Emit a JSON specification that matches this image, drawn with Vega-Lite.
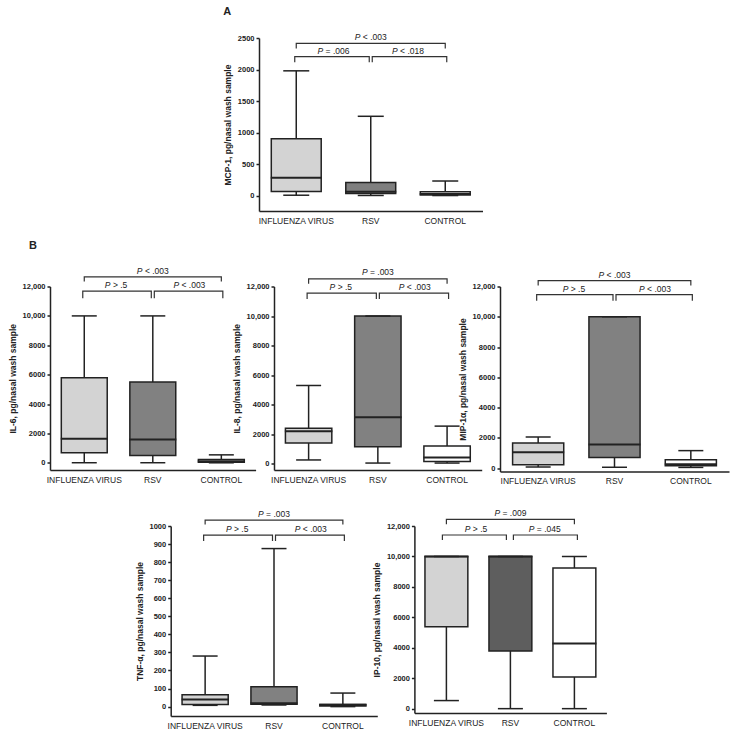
{
"$schema": "https://vega.github.io/schema/vega-lite/v6.json",
"padding": {"left": 8, "top": 6, "right": 2, "bottom": 2},
"config": {
 "view": {"stroke": null},
 "font": "Liberation Sans",
 "tick": {"opacity": 1},
 "axis": {"grid": false, "domainColor": "#222", "domainWidth": 1.5, "tickColor": "#222", "tickWidth": 1.5, "labelColor": "#222", "titleColor": "#222", "labelFont": "Liberation Sans", "titleFont": "Liberation Sans"},
 "axisY": {"tickSize": 3, "labelFontSize": 7.5, "labelFontWeight": "bold", "labelPadding": 2, "labelOverlap": false, "tickCount": 20, "titleFontSize": 8.5, "titleFontWeight": "bold", "titlePadding": 5},
 "axisX": {"ticks": false, "labelFontSize": 8.5, "labelPadding": 5, "labelAngle": 0},
 "title": {"font": "Liberation Sans", "fontSize": 11, "fontWeight": "bold", "color": "#222", "anchor": "start"},
 "text": {"font": "Liberation Sans", "fontSize": 8.5, "color": "#222", "baseline": "middle"}
},
"datasets": {
 "boxes": [
  {"panel":"A","group":"INFLUENZA VIRUS","min":10,"q1":70,"median":285,"q3":905,"max":1980},
  {"panel":"A","group":"RSV","min":6,"q1":37,"median":65,"q3":210,"max":1260},
  {"panel":"A","group":"CONTROL","min":5,"q1":12,"median":30,"q3":63,"max":235},
  {"panel":"IL6","group":"INFLUENZA VIRUS","min":15,"q1":700,"median":1650,"q3":5800,"max":10000},
  {"panel":"IL6","group":"RSV","min":15,"q1":500,"median":1600,"q3":5500,"max":10000},
  {"panel":"IL6","group":"CONTROL","min":10,"q1":50,"median":120,"q3":230,"max":550},
  {"panel":"IL8","group":"INFLUENZA VIRUS","min":260,"q1":1400,"median":2200,"q3":2400,"max":5300},
  {"panel":"IL8","group":"RSV","min":50,"q1":1150,"median":3150,"q3":10000,"max":10000},
  {"panel":"IL8","group":"CONTROL","min":50,"q1":150,"median":420,"q3":1200,"max":2550},
  {"panel":"MIP","group":"INFLUENZA VIRUS","min":60,"q1":220,"median":1050,"q3":1650,"max":2050},
  {"panel":"MIP","group":"RSV","min":50,"q1":700,"median":1550,"q3":10000,"max":10000},
  {"panel":"MIP","group":"CONTROL","min":40,"q1":150,"median":250,"q3":550,"max":1150},
  {"panel":"TNF","group":"INFLUENZA VIRUS","min":7,"q1":12,"median":40,"q3":65,"max":280},
  {"panel":"TNF","group":"RSV","min":9,"q1":13,"median":18,"q3":110,"max":875},
  {"panel":"TNF","group":"CONTROL","min":0,"q1":3,"median":10,"q3":12,"max":75},
  {"panel":"IP10","group":"INFLUENZA VIRUS","min":550,"q1":5400,"median":10000,"q3":10000,"max":10000},
  {"panel":"IP10","group":"RSV","min":20,"q1":3800,"median":10000,"q3":10000,"max":10000},
  {"panel":"IP10","group":"CONTROL","min":20,"q1":2100,"median":4300,"q3":9250,"max":10000}
 ],
 "brackets": [
  {"panel":"A","br":"top","group":"INFLUENZA VIRUS","y":2335,"i":1},{"panel":"A","br":"top","group":"INFLUENZA VIRUS","y":2415,"i":2},{"panel":"A","br":"top","group":"CONTROL","y":2415,"i":3},{"panel":"A","br":"top","group":"CONTROL","y":2335,"i":4},
  {"panel":"A","br":"left","group":"INFLUENZA VIRUS","y":2115,"i":1},{"panel":"A","br":"left","group":"INFLUENZA VIRUS","y":2205,"i":2},{"panel":"A","br":"left","group":"RSV","y":2205,"i":3},{"panel":"A","br":"left","group":"RSV","y":2115,"i":4},
  {"panel":"A","br":"right","group":"RSV","y":2115,"i":1},{"panel":"A","br":"right","group":"RSV","y":2205,"i":2},{"panel":"A","br":"right","group":"CONTROL","y":2205,"i":3},{"panel":"A","br":"right","group":"CONTROL","y":2115,"i":4},
  {"panel":"IL6","br":"top","group":"INFLUENZA VIRUS","y":12340,"i":1},{"panel":"IL6","br":"top","group":"INFLUENZA VIRUS","y":12650,"i":2},{"panel":"IL6","br":"top","group":"CONTROL","y":12650,"i":3},{"panel":"IL6","br":"top","group":"CONTROL","y":12340,"i":4},
  {"panel":"IL6","br":"left","group":"INFLUENZA VIRUS","y":11200,"i":1},{"panel":"IL6","br":"left","group":"INFLUENZA VIRUS","y":11680,"i":2},{"panel":"IL6","br":"left","group":"RSV","y":11680,"i":3},{"panel":"IL6","br":"left","group":"RSV","y":11200,"i":4},
  {"panel":"IL6","br":"right","group":"RSV","y":11200,"i":1},{"panel":"IL6","br":"right","group":"RSV","y":11680,"i":2},{"panel":"IL6","br":"right","group":"CONTROL","y":11680,"i":3},{"panel":"IL6","br":"right","group":"CONTROL","y":11200,"i":4},
  {"panel":"IL8","br":"top","group":"INFLUENZA VIRUS","y":12180,"i":1},{"panel":"IL8","br":"top","group":"INFLUENZA VIRUS","y":12520,"i":2},{"panel":"IL8","br":"top","group":"CONTROL","y":12520,"i":3},{"panel":"IL8","br":"top","group":"CONTROL","y":12180,"i":4},
  {"panel":"IL8","br":"left","group":"INFLUENZA VIRUS","y":11150,"i":1},{"panel":"IL8","br":"left","group":"INFLUENZA VIRUS","y":11550,"i":2},{"panel":"IL8","br":"left","group":"RSV","y":11550,"i":3},{"panel":"IL8","br":"left","group":"RSV","y":11150,"i":4},
  {"panel":"IL8","br":"right","group":"RSV","y":11150,"i":1},{"panel":"IL8","br":"right","group":"RSV","y":11550,"i":2},{"panel":"IL8","br":"right","group":"CONTROL","y":11550,"i":3},{"panel":"IL8","br":"right","group":"CONTROL","y":11150,"i":4},
  {"panel":"MIP","br":"top","group":"INFLUENZA VIRUS","y":12070,"i":1},{"panel":"MIP","br":"top","group":"INFLUENZA VIRUS","y":12390,"i":2},{"panel":"MIP","br":"top","group":"CONTROL","y":12390,"i":3},{"panel":"MIP","br":"top","group":"CONTROL","y":12070,"i":4},
  {"panel":"MIP","br":"left","group":"INFLUENZA VIRUS","y":11060,"i":1},{"panel":"MIP","br":"left","group":"INFLUENZA VIRUS","y":11460,"i":2},{"panel":"MIP","br":"left","group":"RSV","y":11460,"i":3},{"panel":"MIP","br":"left","group":"RSV","y":11060,"i":4},
  {"panel":"MIP","br":"right","group":"RSV","y":11060,"i":1},{"panel":"MIP","br":"right","group":"RSV","y":11460,"i":2},{"panel":"MIP","br":"right","group":"CONTROL","y":11460,"i":3},{"panel":"MIP","br":"right","group":"CONTROL","y":11060,"i":4},
  {"panel":"TNF","br":"top","group":"INFLUENZA VIRUS","y":1009,"i":1},{"panel":"TNF","br":"top","group":"INFLUENZA VIRUS","y":1033,"i":2},{"panel":"TNF","br":"top","group":"CONTROL","y":1033,"i":3},{"panel":"TNF","br":"top","group":"CONTROL","y":1009,"i":4},
  {"panel":"TNF","br":"left","group":"INFLUENZA VIRUS","y":917,"i":1},{"panel":"TNF","br":"left","group":"INFLUENZA VIRUS","y":949,"i":2},{"panel":"TNF","br":"left","group":"RSV","y":949,"i":3},{"panel":"TNF","br":"left","group":"RSV","y":917,"i":4},
  {"panel":"TNF","br":"right","group":"RSV","y":917,"i":1},{"panel":"TNF","br":"right","group":"RSV","y":949,"i":2},{"panel":"TNF","br":"right","group":"CONTROL","y":949,"i":3},{"panel":"TNF","br":"right","group":"CONTROL","y":917,"i":4},
  {"panel":"IP10","br":"top","group":"INFLUENZA VIRUS","y":12110,"i":1},{"panel":"IP10","br":"top","group":"INFLUENZA VIRUS","y":12440,"i":2},{"panel":"IP10","br":"top","group":"CONTROL","y":12440,"i":3},{"panel":"IP10","br":"top","group":"CONTROL","y":12110,"i":4},
  {"panel":"IP10","br":"left","group":"INFLUENZA VIRUS","y":11080,"i":1},{"panel":"IP10","br":"left","group":"INFLUENZA VIRUS","y":11410,"i":2},{"panel":"IP10","br":"left","group":"RSV","y":11410,"i":3},{"panel":"IP10","br":"left","group":"RSV","y":11080,"i":4},
  {"panel":"IP10","br":"right","group":"RSV","y":11080,"i":1},{"panel":"IP10","br":"right","group":"RSV","y":11410,"i":2},{"panel":"IP10","br":"right","group":"CONTROL","y":11410,"i":3},{"panel":"IP10","br":"right","group":"CONTROL","y":11080,"i":4}
 ],
 "labels": [
  {"panel":"A","kind":"top","at":"RSV","y":2510,"rest":"< .003"},{"panel":"A","kind":"low","at":"INFLUENZA VIRUS","y":2290,"rest":"= .006"},{"panel":"A","kind":"low","at":"RSV","y":2290,"rest":"< .018"},
  {"panel":"IL6","kind":"top","at":"RSV","y":13060,"rest":"< .003"},{"panel":"IL6","kind":"low","at":"INFLUENZA VIRUS","y":12090,"rest":"> .5"},{"panel":"IL6","kind":"low","at":"RSV","y":12090,"rest":"< .003"},
  {"panel":"IL8","kind":"top","at":"RSV","y":12950,"rest":"= .003"},{"panel":"IL8","kind":"low","at":"INFLUENZA VIRUS","y":11960,"rest":"> .5"},{"panel":"IL8","kind":"low","at":"RSV","y":11960,"rest":"< .003"},
  {"panel":"MIP","kind":"top","at":"RSV","y":12770,"rest":"< .003"},{"panel":"MIP","kind":"low","at":"INFLUENZA VIRUS","y":11850,"rest":"> .5"},{"panel":"MIP","kind":"low","at":"RSV","y":11850,"rest":"< .003"},
  {"panel":"TNF","kind":"top","at":"RSV","y":1065,"rest":"= .003"},{"panel":"TNF","kind":"low","at":"INFLUENZA VIRUS","y":982,"rest":"> .5"},{"panel":"TNF","kind":"low","at":"RSV","y":982,"rest":"< .003"},
  {"panel":"IP10","kind":"top","at":"RSV","y":12840,"rest":"= .009"},{"panel":"IP10","kind":"low","at":"INFLUENZA VIRUS","y":11800,"rest":"> .5"},{"panel":"IP10","kind":"low","at":"RSV","y":11800,"rest":"= .045"}
 ]
},
"resolve": {"scale": {"color": "independent"}},
"spacing": 24,
"vconcat": [
 {
 "resolve": {"scale": {"color": "independent"}},
 "spacing": 14.5,
 "vconcat": [
  {
  "resolve": {"scale": {"color": "independent"}},
  "bounds": "flush",
  "spacing": 20,
  "hconcat": [
   {"width": 189, "height": 5, "data": {"values": []}, "mark": "point", "encoding": {}},
   {
   "width": 223.5, "height": 173,
   "title": {"text": "A", "offset": 16},
   "layer": [
    {"data":{"name":"boxes"},"transform":[{"filter":"datum.panel==='A'"}],
     "mark":{"type":"rule","color":"#222","strokeWidth":1.5},
     "encoding":{"x":{"field":"group","type":"nominal","title":null,"scale":{"domain":["INFLUENZA VIRUS","RSV","CONTROL"],"paddingInner":0,"paddingOuter":0}},
      "y":{"field":"min","type":"quantitative","scale":{"domain":[-240,2500],"nice":false,"zero":false},"axis":{"title":"MCP-1, pg/nasal wash sample","values":[0,500,1000,1500,2000,2500],"tickCount":20,"labelOverlap":false,"labelExpr":"datum.value >= 10000 ? format(datum.value, ',') : format(datum.value, 'd')"}},
      "y2":{"field":"max"}}},
    {"data":{"name":"boxes"},"transform":[{"filter":"datum.panel==='A'"}],
     "mark":{"type":"bar","width":{"band":0.67},"stroke":"#222","strokeWidth":1.5},
     "encoding":{"x":{"field":"group","type":"nominal","title":null},"y":{"field":"q1","type":"quantitative"},"y2":{"field":"q3"},
      "color":{"field":"group","type":"nominal","scale":{"domain":["INFLUENZA VIRUS","RSV","CONTROL"],"range":["#d3d3d3","#7f7f7f","#ffffff"]},"legend":null}}},
    {"data":{"name":"boxes"},"transform":[{"filter":"datum.panel==='A'"}],
     "mark":{"type":"tick","orient":"horizontal","size":51,"thickness":2,"color":"#222"},
     "encoding":{"x":{"field":"group","type":"nominal","title":null},"y":{"field":"median","type":"quantitative"}}},
    {"data":{"name":"boxes"},"transform":[{"filter":"datum.panel==='A'"},{"fold":["min","max"],"as":["stat","val"]}],
     "mark":{"type":"tick","orient":"horizontal","size":26,"thickness":1.5,"color":"#222"},
     "encoding":{"x":{"field":"group","type":"nominal","title":null},"y":{"field":"val","type":"quantitative"}}},
    {"data":{"name":"brackets"},"transform":[{"filter":"datum.panel==='A' && datum.br==='top'"}],
     "mark":{"type":"line","color":"#333","strokeWidth":1.2},
     "encoding":{"x":{"field":"group","type":"nominal","title":null},"y":{"field":"y","type":"quantitative"},"order":{"field":"i","type":"quantitative"}}},
    {"data":{"name":"brackets"},"transform":[{"filter":"datum.panel==='A' && datum.br==='left'"}],
     "mark":{"type":"line","color":"#333","strokeWidth":1.2,"xOffset":-1.5},
     "encoding":{"x":{"field":"group","type":"nominal","title":null},"y":{"field":"y","type":"quantitative"},"order":{"field":"i","type":"quantitative"}}},
    {"data":{"name":"brackets"},"transform":[{"filter":"datum.panel==='A' && datum.br==='right'"}],
     "mark":{"type":"line","color":"#333","strokeWidth":1.2,"xOffset":1.5},
     "encoding":{"x":{"field":"group","type":"nominal","title":null},"y":{"field":"y","type":"quantitative"},"order":{"field":"i","type":"quantitative"}}},
    {"data":{"name":"labels"},"transform":[{"filter":"datum.panel==='A' && datum.kind==='top'"}],
     "mark":{"type":"text","text":"P","fontStyle":"italic","align":"right","dx":-10.3},
     "encoding":{"x":{"field":"at","type":"nominal","title":null},"y":{"field":"y","type":"quantitative"}}},
    {"data":{"name":"labels"},"transform":[{"filter":"datum.panel==='A' && datum.kind==='top'"}],
     "mark":{"type":"text","align":"left","dx":-7.9},
     "encoding":{"x":{"field":"at","type":"nominal","title":null},"y":{"field":"y","type":"quantitative"},"text":{"field":"rest"}}},
    {"data":{"name":"labels"},"transform":[{"filter":"datum.panel==='A' && datum.kind==='low'"}],
     "mark":{"type":"text","text":"P","fontStyle":"italic","align":"right","dx":-10.3},
     "encoding":{"x":{"field":"at","type":"nominal","title":null,"bandPosition":1},"y":{"field":"y","type":"quantitative"}}},
    {"data":{"name":"labels"},"transform":[{"filter":"datum.panel==='A' && datum.kind==='low'"}],
     "mark":{"type":"text","align":"left","dx":-7.9},
     "encoding":{"x":{"field":"at","type":"nominal","title":null,"bandPosition":1},"y":{"field":"y","type":"quantitative"},"text":{"field":"rest"}}}
   ]
   }
  ]
  },
  {
  "resolve": {"scale": {"color": "independent"}},
  "bounds": "flush",
  "spacing": 18,
  "hconcat": [
   {
   "width": 205.6, "height": 183.5,
   "title": {"text": "B", "offset": 16, "dx": 21},
   "layer": [
    {"data":{"name":"boxes"},"transform":[{"filter":"datum.panel==='IL6'"}],
     "mark":{"type":"rule","color":"#222","strokeWidth":1.5},
     "encoding":{"x":{"field":"group","type":"nominal","title":null,"scale":{"domain":["INFLUENZA VIRUS","RSV","CONTROL"],"paddingInner":0,"paddingOuter":0}},
      "y":{"field":"min","type":"quantitative","scale":{"domain":[-480,12000],"nice":false,"zero":false},"axis":{"title":"IL-6, pg/nasal wash sample","values":[0,2000,4000,6000,8000,10000,12000],"tickCount":20,"labelOverlap":false,"labelExpr":"datum.value >= 10000 ? format(datum.value, ',') : format(datum.value, 'd')"}},
      "y2":{"field":"max"}}},
    {"data":{"name":"boxes"},"transform":[{"filter":"datum.panel==='IL6'"}],
     "mark":{"type":"bar","width":{"band":0.67},"stroke":"#222","strokeWidth":1.5},
     "encoding":{"x":{"field":"group","type":"nominal","title":null},"y":{"field":"q1","type":"quantitative"},"y2":{"field":"q3"},
      "color":{"field":"group","type":"nominal","scale":{"domain":["INFLUENZA VIRUS","RSV","CONTROL"],"range":["#d3d3d3","#818181","#ffffff"]},"legend":null}}},
    {"data":{"name":"boxes"},"transform":[{"filter":"datum.panel==='IL6'"}],
     "mark":{"type":"tick","orient":"horizontal","size":47,"thickness":2,"color":"#222"},
     "encoding":{"x":{"field":"group","type":"nominal","title":null},"y":{"field":"median","type":"quantitative"}}},
    {"data":{"name":"boxes"},"transform":[{"filter":"datum.panel==='IL6'"},{"fold":["min","max"],"as":["stat","val"]}],
     "mark":{"type":"tick","orient":"horizontal","size":25,"thickness":1.5,"color":"#222"},
     "encoding":{"x":{"field":"group","type":"nominal","title":null},"y":{"field":"val","type":"quantitative"}}},
    {"data":{"name":"brackets"},"transform":[{"filter":"datum.panel==='IL6' && datum.br==='top'"}],
     "mark":{"type":"line","color":"#333","strokeWidth":1.2},
     "encoding":{"x":{"field":"group","type":"nominal","title":null},"y":{"field":"y","type":"quantitative"},"order":{"field":"i","type":"quantitative"}}},
    {"data":{"name":"brackets"},"transform":[{"filter":"datum.panel==='IL6' && datum.br==='left'"}],
     "mark":{"type":"line","color":"#333","strokeWidth":1.2,"xOffset":-1.5},
     "encoding":{"x":{"field":"group","type":"nominal","title":null},"y":{"field":"y","type":"quantitative"},"order":{"field":"i","type":"quantitative"}}},
    {"data":{"name":"brackets"},"transform":[{"filter":"datum.panel==='IL6' && datum.br==='right'"}],
     "mark":{"type":"line","color":"#333","strokeWidth":1.2,"xOffset":1.5},
     "encoding":{"x":{"field":"group","type":"nominal","title":null},"y":{"field":"y","type":"quantitative"},"order":{"field":"i","type":"quantitative"}}},
    {"data":{"name":"labels"},"transform":[{"filter":"datum.panel==='IL6' && datum.kind==='top'"}],
     "mark":{"type":"text","text":"P","fontStyle":"italic","align":"right","dx":-10.3},
     "encoding":{"x":{"field":"at","type":"nominal","title":null},"y":{"field":"y","type":"quantitative"}}},
    {"data":{"name":"labels"},"transform":[{"filter":"datum.panel==='IL6' && datum.kind==='top'"}],
     "mark":{"type":"text","align":"left","dx":-7.9},
     "encoding":{"x":{"field":"at","type":"nominal","title":null},"y":{"field":"y","type":"quantitative"},"text":{"field":"rest"}}},
    {"data":{"name":"labels"},"transform":[{"filter":"datum.panel==='IL6' && datum.kind==='low'"}],
     "mark":{"type":"text","text":"P","fontStyle":"italic","align":"right","dx":-8},
     "encoding":{"x":{"field":"at","type":"nominal","title":null,"bandPosition":1},"y":{"field":"y","type":"quantitative"}}},
    {"data":{"name":"labels"},"transform":[{"filter":"datum.panel==='IL6' && datum.kind==='low'"}],
     "mark":{"type":"text","align":"left","dx":-5.6},
     "encoding":{"x":{"field":"at","type":"nominal","title":null,"bandPosition":1},"y":{"field":"y","type":"quantitative"},"text":{"field":"rest"}}}
   ]
   },
   {
   "width": 207.7, "height": 183.5,
   "layer": [
    {"data":{"name":"boxes"},"transform":[{"filter":"datum.panel==='IL8'"}],
     "mark":{"type":"rule","color":"#222","strokeWidth":1.5},
     "encoding":{"x":{"field":"group","type":"nominal","title":null,"scale":{"domain":["INFLUENZA VIRUS","RSV","CONTROL"],"paddingInner":0,"paddingOuter":0}},
      "y":{"field":"min","type":"quantitative","scale":{"domain":[-420,12000],"nice":false,"zero":false},"axis":{"title":"IL-8, pg/nasal wash sample","values":[0,2000,4000,6000,8000,10000,12000],"tickCount":20,"labelOverlap":false,"labelExpr":"datum.value >= 10000 ? format(datum.value, ',') : format(datum.value, 'd')"}},
      "y2":{"field":"max"}}},
    {"data":{"name":"boxes"},"transform":[{"filter":"datum.panel==='IL8'"}],
     "mark":{"type":"bar","width":{"band":0.67},"stroke":"#222","strokeWidth":1.5},
     "encoding":{"x":{"field":"group","type":"nominal","title":null},"y":{"field":"q1","type":"quantitative"},"y2":{"field":"q3"},
      "color":{"field":"group","type":"nominal","scale":{"domain":["INFLUENZA VIRUS","RSV","CONTROL"],"range":["#d3d3d3","#818181","#ffffff"]},"legend":null}}},
    {"data":{"name":"boxes"},"transform":[{"filter":"datum.panel==='IL8'"}],
     "mark":{"type":"tick","orient":"horizontal","size":47.5,"thickness":2,"color":"#222"},
     "encoding":{"x":{"field":"group","type":"nominal","title":null},"y":{"field":"median","type":"quantitative"}}},
    {"data":{"name":"boxes"},"transform":[{"filter":"datum.panel==='IL8'"},{"fold":["min","max"],"as":["stat","val"]}],
     "mark":{"type":"tick","orient":"horizontal","size":25,"thickness":1.5,"color":"#222"},
     "encoding":{"x":{"field":"group","type":"nominal","title":null},"y":{"field":"val","type":"quantitative"}}},
    {"data":{"name":"brackets"},"transform":[{"filter":"datum.panel==='IL8' && datum.br==='top'"}],
     "mark":{"type":"line","color":"#333","strokeWidth":1.2},
     "encoding":{"x":{"field":"group","type":"nominal","title":null},"y":{"field":"y","type":"quantitative"},"order":{"field":"i","type":"quantitative"}}},
    {"data":{"name":"brackets"},"transform":[{"filter":"datum.panel==='IL8' && datum.br==='left'"}],
     "mark":{"type":"line","color":"#333","strokeWidth":1.2,"xOffset":-1.5},
     "encoding":{"x":{"field":"group","type":"nominal","title":null},"y":{"field":"y","type":"quantitative"},"order":{"field":"i","type":"quantitative"}}},
    {"data":{"name":"brackets"},"transform":[{"filter":"datum.panel==='IL8' && datum.br==='right'"}],
     "mark":{"type":"line","color":"#333","strokeWidth":1.2,"xOffset":1.5},
     "encoding":{"x":{"field":"group","type":"nominal","title":null},"y":{"field":"y","type":"quantitative"},"order":{"field":"i","type":"quantitative"}}},
    {"data":{"name":"labels"},"transform":[{"filter":"datum.panel==='IL8' && datum.kind==='top'"}],
     "mark":{"type":"text","text":"P","fontStyle":"italic","align":"right","dx":-10.3},
     "encoding":{"x":{"field":"at","type":"nominal","title":null},"y":{"field":"y","type":"quantitative"}}},
    {"data":{"name":"labels"},"transform":[{"filter":"datum.panel==='IL8' && datum.kind==='top'"}],
     "mark":{"type":"text","align":"left","dx":-7.9},
     "encoding":{"x":{"field":"at","type":"nominal","title":null},"y":{"field":"y","type":"quantitative"},"text":{"field":"rest"}}},
    {"data":{"name":"labels"},"transform":[{"filter":"datum.panel==='IL8' && datum.kind==='low'"}],
     "mark":{"type":"text","text":"P","fontStyle":"italic","align":"right","dx":-8},
     "encoding":{"x":{"field":"at","type":"nominal","title":null,"bandPosition":1},"y":{"field":"y","type":"quantitative"}}},
    {"data":{"name":"labels"},"transform":[{"filter":"datum.panel==='IL8' && datum.kind==='low'"}],
     "mark":{"type":"text","align":"left","dx":-5.6},
     "encoding":{"x":{"field":"at","type":"nominal","title":null,"bandPosition":1},"y":{"field":"y","type":"quantitative"},"text":{"field":"rest"}}}
   ]
   },
   {
   "width": 229, "height": 185,
   "layer": [
    {"data":{"name":"boxes"},"transform":[{"filter":"datum.panel==='MIP'"}],
     "mark":{"type":"rule","color":"#222","strokeWidth":1.5},
     "encoding":{"x":{"field":"group","type":"nominal","title":null,"scale":{"domain":["INFLUENZA VIRUS","RSV","CONTROL"],"paddingInner":0,"paddingOuter":0}},
      "y":{"field":"min","type":"quantitative","scale":{"domain":[-230,12000],"nice":false,"zero":false},"axis":{"title":"MIP-1α, pg/nasal wash sample","values":[0,2000,4000,6000,8000,10000,12000],"tickCount":20,"labelOverlap":false,"labelExpr":"datum.value >= 10000 ? format(datum.value, ',') : format(datum.value, 'd')"}},
      "y2":{"field":"max"}}},
    {"data":{"name":"boxes"},"transform":[{"filter":"datum.panel==='MIP'"}],
     "mark":{"type":"bar","width":{"band":0.67},"stroke":"#222","strokeWidth":1.5},
     "encoding":{"x":{"field":"group","type":"nominal","title":null},"y":{"field":"q1","type":"quantitative"},"y2":{"field":"q3"},
      "color":{"field":"group","type":"nominal","scale":{"domain":["INFLUENZA VIRUS","RSV","CONTROL"],"range":["#d3d3d3","#818181","#ffffff"]},"legend":null}}},
    {"data":{"name":"boxes"},"transform":[{"filter":"datum.panel==='MIP'"}],
     "mark":{"type":"tick","orient":"horizontal","size":52,"thickness":2,"color":"#222"},
     "encoding":{"x":{"field":"group","type":"nominal","title":null},"y":{"field":"median","type":"quantitative"}}},
    {"data":{"name":"boxes"},"transform":[{"filter":"datum.panel==='MIP'"},{"fold":["min","max"],"as":["stat","val"]}],
     "mark":{"type":"tick","orient":"horizontal","size":25,"thickness":1.5,"color":"#222"},
     "encoding":{"x":{"field":"group","type":"nominal","title":null},"y":{"field":"val","type":"quantitative"}}},
    {"data":{"name":"brackets"},"transform":[{"filter":"datum.panel==='MIP' && datum.br==='top'"}],
     "mark":{"type":"line","color":"#333","strokeWidth":1.2},
     "encoding":{"x":{"field":"group","type":"nominal","title":null},"y":{"field":"y","type":"quantitative"},"order":{"field":"i","type":"quantitative"}}},
    {"data":{"name":"brackets"},"transform":[{"filter":"datum.panel==='MIP' && datum.br==='left'"}],
     "mark":{"type":"line","color":"#333","strokeWidth":1.2,"xOffset":-1.5},
     "encoding":{"x":{"field":"group","type":"nominal","title":null},"y":{"field":"y","type":"quantitative"},"order":{"field":"i","type":"quantitative"}}},
    {"data":{"name":"brackets"},"transform":[{"filter":"datum.panel==='MIP' && datum.br==='right'"}],
     "mark":{"type":"line","color":"#333","strokeWidth":1.2,"xOffset":1.5},
     "encoding":{"x":{"field":"group","type":"nominal","title":null},"y":{"field":"y","type":"quantitative"},"order":{"field":"i","type":"quantitative"}}},
    {"data":{"name":"labels"},"transform":[{"filter":"datum.panel==='MIP' && datum.kind==='top'"}],
     "mark":{"type":"text","text":"P","fontStyle":"italic","align":"right","dx":-10.3},
     "encoding":{"x":{"field":"at","type":"nominal","title":null},"y":{"field":"y","type":"quantitative"}}},
    {"data":{"name":"labels"},"transform":[{"filter":"datum.panel==='MIP' && datum.kind==='top'"}],
     "mark":{"type":"text","align":"left","dx":-7.9},
     "encoding":{"x":{"field":"at","type":"nominal","title":null},"y":{"field":"y","type":"quantitative"},"text":{"field":"rest"}}},
    {"data":{"name":"labels"},"transform":[{"filter":"datum.panel==='MIP' && datum.kind==='low'"}],
     "mark":{"type":"text","text":"P","fontStyle":"italic","align":"right","dx":-8},
     "encoding":{"x":{"field":"at","type":"nominal","title":null,"bandPosition":1},"y":{"field":"y","type":"quantitative"}}},
    {"data":{"name":"labels"},"transform":[{"filter":"datum.panel==='MIP' && datum.kind==='low'"}],
     "mark":{"type":"text","align":"left","dx":-5.6},
     "encoding":{"x":{"field":"at","type":"nominal","title":null,"bandPosition":1},"y":{"field":"y","type":"quantitative"},"text":{"field":"rest"}}}
   ]
   }
  ]
  }
 ]
 },
 {
 "resolve": {"scale": {"color": "independent"}},
 "bounds": "flush",
 "spacing": 36.7,
 "hconcat": [
  {"width": 84, "height": 5, "data": {"values": []}, "mark": "point", "encoding": {}},
  {
  "width": 206.6, "height": 190,
  "layer": [
    {"data":{"name":"boxes"},"transform":[{"filter":"datum.panel==='TNF'"}],
     "mark":{"type":"rule","color":"#222","strokeWidth":1.5},
     "encoding":{"x":{"field":"group","type":"nominal","title":null,"scale":{"domain":["INFLUENZA VIRUS","RSV","CONTROL"],"paddingInner":0,"paddingOuter":0}},
      "y":{"field":"min","type":"quantitative","scale":{"domain":[-52,1000],"nice":false,"zero":false},"axis":{"title":"TNF-α, pg/nasal wash sample","values":[0,100,200,300,400,500,600,700,800,900,1000],"tickCount":20,"labelOverlap":false,"labelExpr":"datum.value >= 10000 ? format(datum.value, ',') : format(datum.value, 'd')"}},
      "y2":{"field":"max"}}},
    {"data":{"name":"boxes"},"transform":[{"filter":"datum.panel==='TNF'"}],
     "mark":{"type":"bar","width":{"band":0.67},"stroke":"#222","strokeWidth":1.5},
     "encoding":{"x":{"field":"group","type":"nominal","title":null},"y":{"field":"q1","type":"quantitative"},"y2":{"field":"q3"},
      "color":{"field":"group","type":"nominal","scale":{"domain":["INFLUENZA VIRUS","RSV","CONTROL"],"range":["#d3d3d3","#818181","#ffffff"]},"legend":null}}},
    {"data":{"name":"boxes"},"transform":[{"filter":"datum.panel==='TNF'"}],
     "mark":{"type":"tick","orient":"horizontal","size":47,"thickness":2,"color":"#222"},
     "encoding":{"x":{"field":"group","type":"nominal","title":null},"y":{"field":"median","type":"quantitative"}}},
    {"data":{"name":"boxes"},"transform":[{"filter":"datum.panel==='TNF'"},{"fold":["min","max"],"as":["stat","val"]}],
     "mark":{"type":"tick","orient":"horizontal","size":25,"thickness":1.5,"color":"#222"},
     "encoding":{"x":{"field":"group","type":"nominal","title":null},"y":{"field":"val","type":"quantitative"}}},
    {"data":{"name":"brackets"},"transform":[{"filter":"datum.panel==='TNF' && datum.br==='top'"}],
     "mark":{"type":"line","color":"#333","strokeWidth":1.2},
     "encoding":{"x":{"field":"group","type":"nominal","title":null},"y":{"field":"y","type":"quantitative"},"order":{"field":"i","type":"quantitative"}}},
    {"data":{"name":"brackets"},"transform":[{"filter":"datum.panel==='TNF' && datum.br==='left'"}],
     "mark":{"type":"line","color":"#333","strokeWidth":1.2,"xOffset":-1.5},
     "encoding":{"x":{"field":"group","type":"nominal","title":null},"y":{"field":"y","type":"quantitative"},"order":{"field":"i","type":"quantitative"}}},
    {"data":{"name":"brackets"},"transform":[{"filter":"datum.panel==='TNF' && datum.br==='right'"}],
     "mark":{"type":"line","color":"#333","strokeWidth":1.2,"xOffset":1.5},
     "encoding":{"x":{"field":"group","type":"nominal","title":null},"y":{"field":"y","type":"quantitative"},"order":{"field":"i","type":"quantitative"}}},
    {"data":{"name":"labels"},"transform":[{"filter":"datum.panel==='TNF' && datum.kind==='top'"}],
     "mark":{"type":"text","text":"P","fontStyle":"italic","align":"right","dx":-10.3},
     "encoding":{"x":{"field":"at","type":"nominal","title":null},"y":{"field":"y","type":"quantitative"}}},
    {"data":{"name":"labels"},"transform":[{"filter":"datum.panel==='TNF' && datum.kind==='top'"}],
     "mark":{"type":"text","align":"left","dx":-7.9},
     "encoding":{"x":{"field":"at","type":"nominal","title":null},"y":{"field":"y","type":"quantitative"},"text":{"field":"rest"}}},
    {"data":{"name":"labels"},"transform":[{"filter":"datum.panel==='TNF' && datum.kind==='low'"}],
     "mark":{"type":"text","text":"P","fontStyle":"italic","align":"right","dx":-8},
     "encoding":{"x":{"field":"at","type":"nominal","title":null,"bandPosition":1},"y":{"field":"y","type":"quantitative"}}},
    {"data":{"name":"labels"},"transform":[{"filter":"datum.panel==='TNF' && datum.kind==='low'"}],
     "mark":{"type":"text","align":"left","dx":-5.6},
     "encoding":{"x":{"field":"at","type":"nominal","title":null,"bandPosition":1},"y":{"field":"y","type":"quantitative"},"text":{"field":"rest"}}}
  ]
  },
  {
  "width": 192, "height": 187,
  "layer": [
    {"data":{"name":"boxes"},"transform":[{"filter":"datum.panel==='IP10'"}],
     "mark":{"type":"rule","color":"#222","strokeWidth":1.5},
     "encoding":{"x":{"field":"group","type":"nominal","title":null,"scale":{"domain":["INFLUENZA VIRUS","RSV","CONTROL"],"paddingInner":0,"paddingOuter":0}},
      "y":{"field":"min","type":"quantitative","scale":{"domain":[-265,12000],"nice":false,"zero":false},"axis":{"title":"IP-10, pg/nasal wash sample","values":[0,2000,4000,6000,8000,10000,12000],"tickCount":20,"labelOverlap":false,"labelExpr":"datum.value >= 10000 ? format(datum.value, ',') : format(datum.value, 'd')"}},
      "y2":{"field":"max"}}},
    {"data":{"name":"boxes"},"transform":[{"filter":"datum.panel==='IP10'"}],
     "mark":{"type":"bar","width":{"band":0.67},"stroke":"#222","strokeWidth":1.5},
     "encoding":{"x":{"field":"group","type":"nominal","title":null},"y":{"field":"q1","type":"quantitative"},"y2":{"field":"q3"},
      "color":{"field":"group","type":"nominal","scale":{"domain":["INFLUENZA VIRUS","RSV","CONTROL"],"range":["#d3d3d3","#5e5e5e","#ffffff"]},"legend":null}}},
    {"data":{"name":"boxes"},"transform":[{"filter":"datum.panel==='IP10'"}],
     "mark":{"type":"tick","orient":"horizontal","size":44,"thickness":2,"color":"#222"},
     "encoding":{"x":{"field":"group","type":"nominal","title":null},"y":{"field":"median","type":"quantitative"}}},
    {"data":{"name":"boxes"},"transform":[{"filter":"datum.panel==='IP10'"},{"fold":["min","max"],"as":["stat","val"]}],
     "mark":{"type":"tick","orient":"horizontal","size":25,"thickness":1.5,"color":"#222"},
     "encoding":{"x":{"field":"group","type":"nominal","title":null},"y":{"field":"val","type":"quantitative"}}},
    {"data":{"name":"brackets"},"transform":[{"filter":"datum.panel==='IP10' && datum.br==='top'"}],
     "mark":{"type":"line","color":"#333","strokeWidth":1.2},
     "encoding":{"x":{"field":"group","type":"nominal","title":null},"y":{"field":"y","type":"quantitative"},"order":{"field":"i","type":"quantitative"}}},
    {"data":{"name":"brackets"},"transform":[{"filter":"datum.panel==='IP10' && datum.br==='left'"}],
     "mark":{"type":"line","color":"#333","strokeWidth":1.2,"xOffset":-4},
     "encoding":{"x":{"field":"group","type":"nominal","title":null},"y":{"field":"y","type":"quantitative"},"order":{"field":"i","type":"quantitative"}}},
    {"data":{"name":"brackets"},"transform":[{"filter":"datum.panel==='IP10' && datum.br==='right'"}],
     "mark":{"type":"line","color":"#333","strokeWidth":1.2,"xOffset":3},
     "encoding":{"x":{"field":"group","type":"nominal","title":null},"y":{"field":"y","type":"quantitative"},"order":{"field":"i","type":"quantitative"}}},
    {"data":{"name":"labels"},"transform":[{"filter":"datum.panel==='IP10' && datum.kind==='top'"}],
     "mark":{"type":"text","text":"P","fontStyle":"italic","align":"right","dx":-10.3},
     "encoding":{"x":{"field":"at","type":"nominal","title":null},"y":{"field":"y","type":"quantitative"}}},
    {"data":{"name":"labels"},"transform":[{"filter":"datum.panel==='IP10' && datum.kind==='top'"}],
     "mark":{"type":"text","align":"left","dx":-7.9},
     "encoding":{"x":{"field":"at","type":"nominal","title":null},"y":{"field":"y","type":"quantitative"},"text":{"field":"rest"}}},
    {"data":{"name":"labels"},"transform":[{"filter":"datum.panel==='IP10' && datum.kind==='low'"}],
     "mark":{"type":"text","text":"P","fontStyle":"italic","align":"right","dx":-8},
     "encoding":{"x":{"field":"at","type":"nominal","title":null,"bandPosition":1},"y":{"field":"y","type":"quantitative"}}},
    {"data":{"name":"labels"},"transform":[{"filter":"datum.panel==='IP10' && datum.kind==='low'"}],
     "mark":{"type":"text","align":"left","dx":-5.6},
     "encoding":{"x":{"field":"at","type":"nominal","title":null,"bandPosition":1},"y":{"field":"y","type":"quantitative"},"text":{"field":"rest"}}}
  ]
  }
 ]
 }
]
}
